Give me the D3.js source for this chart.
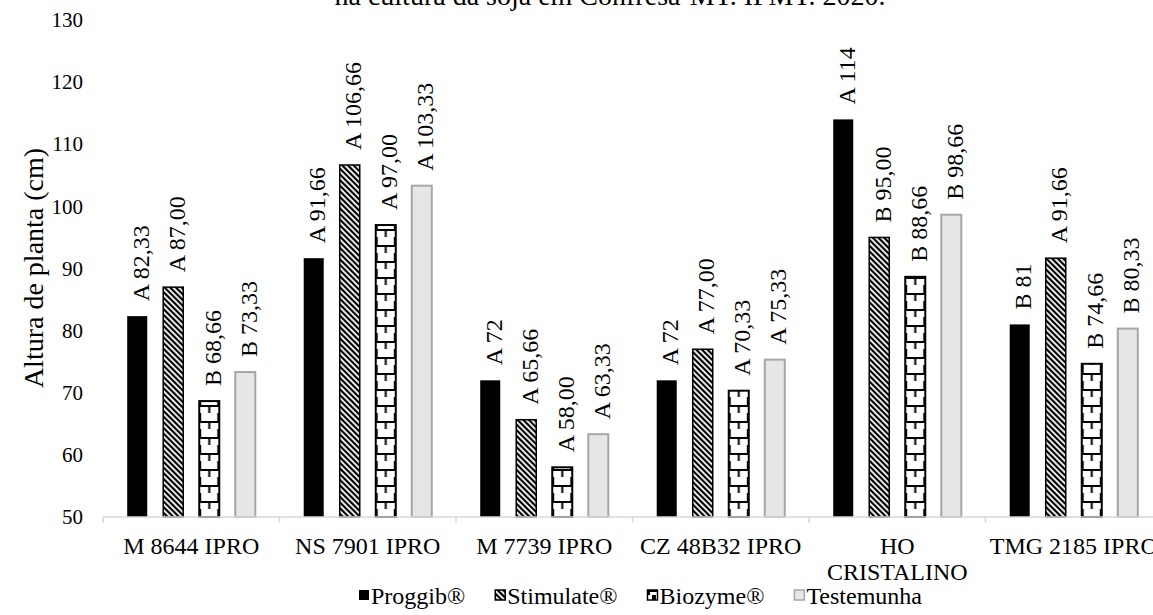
<!DOCTYPE html>
<html lang="pt">
<head>
    <meta charset="UTF-8">
    <title>Altura de planta</title>
    <script src="https://d3js.org/d3.v7.min.js"></script>
    <style>
        body {
            margin: 0;
            background-color: white;
        }
        svg text {
            font-family: 'Liberation Serif', 'Times New Roman', serif;
            fill: black;
        }
    </style>
</head>
<body>
    <div id="chart"></div>

    <script>
        // Data
        const title = "na cultura da soja em Confresa-MT. IFMT. 2020.";
        const yTitle = "Altura de planta (cm)";
        const categories = ["M 8644 IPRO", "NS 7901 IPRO", "M 7739 IPRO", "CZ 48B32 IPRO", "HO CRISTALINO", "TMG 2185 IPRO"];
        const seriesNames = ["Proggib®", "Stimulate®", "Biozyme®", "Testemunha"];
        const proggib = [82.33, 91.66, 72, 72, 114, 81];
        const stimulate = [87.00, 106.66, 65.66, 77.00, 95.00, 91.66];
        const biozyme = [68.66, 97.00, 58.00, 70.33, 88.66, 74.66];
        const testemunha = [73.33, 103.33, 63.33, 75.33, 98.66, 80.33];
        const proggibLabels = ["A 82,33", "A 91,66", "A 72", "A 72", "A 114", "B 81"];
        const stimulateLabels = ["A 87,00", "A 106,66", "A 65,66", "A 77,00", "B 95,00", "A 91,66"];
        const biozymeLabels = ["B 68,66", "A 97,00", "A 58,00", "A 70,33", "B 88,66", "B 74,66"];
        const testemunhaLabels = ["B 73,33", "A 103,33", "A 63,33", "A 75,33", "B 98,66", "B 80,33"];
        const yTicks = [50, 60, 70, 80, 90, 100, 110, 120, 130];

        const seriesValues = [proggib, stimulate, biozyme, testemunha];
        const seriesLabels = [proggibLabels, stimulateLabels, biozymeLabels, testemunhaLabels];

        const width = 1153;
        const height = 615;
        const font = "'Liberation Serif', 'Times New Roman', serif";

        const svg = d3.select("#chart")
            .append("svg")
            .attr("width", width)
            .attr("height", height);

        const defs = svg.append("defs");

        // diagonal stripes for Stimulate
        const stim = defs.append("pattern")
            .attr("id", "stim")
            .attr("patternUnits", "userSpaceOnUse")
            .attr("width", 4)
            .attr("height", 4)
            .attr("patternTransform", "rotate(-45)");
        stim.append("rect").attr("width", 4).attr("height", 4).attr("fill", "white");
        stim.append("rect").attr("width", 2.2).attr("height", 4).attr("fill", "black");

        // brick-like pattern for Biozyme, one per mark so it lines up with the bar
        function brick(id, x0, y0, w, h) {
            const p = defs.append("pattern")
                .attr("id", id)
                .attr("patternUnits", "userSpaceOnUse")
                .attr("x", x0)
                .attr("y", y0)
                .attr("width", w)
                .attr("height", h);
            p.append("rect").attr("width", w).attr("height", h).attr("fill", "white");
            p.append("rect").attr("width", w).attr("height", 2).attr("fill", "black");
            p.append("rect").attr("x", w / 2 - 1).attr("width", 2).attr("height", h / 2).attr("fill", "black");
            p.append("rect").attr("y", h / 2).attr("width", 2).attr("height", h / 2).attr("fill", "black");
            p.append("rect").attr("x", w - 2).attr("y", h / 2).attr("width", 2).attr("height", h / 2).attr("fill", "black");
            return `url(#${id})`;
        }

        const fills = ["black", "url(#stim)", null, "#e6e6e6"];
        const strokes = ["black", "black", "black", "#a6a6a6"];
        const strokeWidths = [0, 1.5, 2, 2];

        // Scales
        const x0 = d3.scaleBand()
            .domain(categories)
            .range([103, 1162]);

        const x1 = d3.scaleBand()
            .domain(seriesNames)
            .range([0, x0.bandwidth()])
            .paddingInner(0.444)
            .paddingOuter(0.672);

        const y = d3.scaleLinear()
            .domain([50, 130])
            .range([517, 20]);

        // Title (partly cut off at the top, as in the original)
        svg.append("text")
            .attr("x", 610)
            .attr("y", 5)
            .attr("text-anchor", "middle")
            .style("font-size", "28px")
            .text(title);

        // Y axis
        const yAxis = svg.append("g")
            .attr("transform", "translate(86,0)")
            .call(d3.axisLeft(y).tickValues(yTicks).tickSize(0).tickPadding(3));
        yAxis.select(".domain").remove();
        yAxis.selectAll("text")
            .style("font-family", font)
            .style("font-size", "21px")
            .attr("fill", "black");

        svg.append("text")
            .attr("transform", "translate(43,268) rotate(-90)")
            .attr("text-anchor", "middle")
            .style("font-size", "28px")
            .text(yTitle);

        // Bars
        const rows = [];
        categories.forEach((cat, i) => {
            seriesNames.forEach((s, j) => {
                rows.push({ cat, s, j, value: seriesValues[j][i], label: seriesLabels[j][i] });
            });
        });

        const bars = svg.append("g");
        bars.selectAll("rect")
            .data(rows)
            .enter()
            .append("rect")
            .attr("x", d => x0(d.cat) + x1(d.s))
            .attr("y", d => y(d.value))
            .attr("width", x1.bandwidth())
            .attr("height", d => y(50) - y(d.value))
            .attr("fill", (d, k) => d.j === 2
                ? brick("bz" + k, x0(d.cat) + x1(d.s), y(50), x1.bandwidth(), 16)
                : fills[d.j])
            .attr("stroke", d => strokes[d.j])
            .attr("stroke-width", d => strokeWidths[d.j]);

        // Value labels
        svg.append("g").selectAll("text")
            .data(rows)
            .enter()
            .append("text")
            .attr("transform", d => `translate(${x0(d.cat) + x1(d.s) + x1.bandwidth() / 2 + 3},${y(d.value) - 15}) rotate(-90)`)
            .attr("dy", "0.35em")
            .style("font-size", "24px")
            .text(d => d.label);

        // X axis: light line with ticks at the group boundaries
        const axisY = y(50);
        const bounds = categories.map(c => x0(c)).concat([x0.range()[1]]);
        const xAxis = svg.append("g");
        xAxis.append("line")
            .attr("x1", x0.range()[0])
            .attr("x2", x0.range()[1])
            .attr("y1", axisY)
            .attr("y2", axisY)
            .attr("stroke", "#d9d9d9")
            .attr("stroke-width", 1.5);
        xAxis.selectAll(".tick")
            .data(bounds)
            .enter()
            .append("line")
            .attr("x1", d => d)
            .attr("x2", d => d)
            .attr("y1", axisY)
            .attr("y2", axisY + 6)
            .attr("stroke", "#d9d9d9")
            .attr("stroke-width", 1.5);

        const catLabels = xAxis.selectAll(".cat")
            .data(categories)
            .enter()
            .append("text")
            .attr("class", "cat")
            .attr("x", d => x0(d) + x0.bandwidth() / 2)
            .attr("y", 554)
            .attr("text-anchor", "middle")
            .style("font-size", "24px")
            .text(d => d);

        // wrap labels that are too wide for their group
        catLabels.each(function(d) {
            const t = d3.select(this);
            if (this.getComputedTextLength() > x0.bandwidth()) {
                const words = d.split(" ");
                const cx = t.attr("x");
                t.text(null);
                t.append("tspan").attr("x", cx).text(words[0]);
                t.append("tspan").attr("x", cx).attr("dy", 26).text(words.slice(1).join(" "));
            }
        });

        // Legend
        const legend = svg.append("g");
        const items = legend.selectAll("g")
            .data(seriesNames)
            .enter()
            .append("g");
        items.append("text")
            .attr("x", 13)
            .attr("y", 604)
            .style("font-size", "24px")
            .text(d => d);

        let cursor = 0;
        const offsets = [];
        items.each(function() {
            offsets.push(cursor);
            cursor += 13 + d3.select(this).select("text").node().getComputedTextLength() + 29;
        });
        const legendWidth = cursor - 29;
        const legendStart = 640 - legendWidth / 2;

        items.attr("transform", (d, i) => `translate(${legendStart + offsets[i]},0)`);
        items.append("rect")
            .attr("x", 1)
            .attr("y", 590)
            .attr("width", 10)
            .attr("height", 10)
            .attr("fill", (d, i) => i === 2
                ? brick("bzLegend", legendStart + offsets[i] + 1, 590, 10, 10)
                : fills[i])
            .attr("stroke", (d, i) => strokes[i])
            .attr("stroke-width", (d, i) => Math.min(strokeWidths[i], 1.5));
    </script>
</body>
</html>
